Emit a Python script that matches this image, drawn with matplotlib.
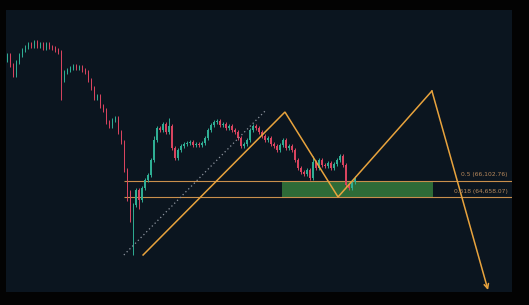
import matplotlib
matplotlib.use("Agg")
import numpy as np
import matplotlib.pyplot as plt
from matplotlib.patches import Rectangle

# candle closes (price units)
closes = [77480, 76580, 75680, 76850, 77480, 77930, 78200, 78470, 78290, 78660,
          78290, 78470, 78110, 78470, 78200, 78110, 77930, 77750, 75220, 75950,
          76130, 76310, 76490, 76310, 76400, 76130, 75950, 75220, 74500, 73600,
          73780, 72880, 72510, 71430, 71070, 71610, 71790, 70530, 69630, 67100,
          65110, 63300, 63940, 65290, 64390, 65470, 66190, 66650, 68000, 69810,
          70890, 70710, 71250, 70530, 71070, 69080, 68180, 68900, 69260, 69440,
          69530, 69630, 69350, 69440, 69350, 69530, 69990, 70710, 71160, 71430,
          71520, 71160, 71250, 70890, 71070, 70710, 70530, 69990, 69260, 69440,
          69810, 70710, 71070, 70890, 70530, 70170, 69810, 69990, 69440, 69260,
          68900, 69350, 69810, 69080, 69260, 68900, 68000, 67280, 66920, 66740,
          67100, 66370, 67820, 67280, 68000, 67550, 67460, 67730, 67280, 67640,
          68000, 68360, 67550, 65740, 65470, 66010, 66370]
first_open = 77000
# long wicks
wick_low = {18: 73420, 40: 64300, 41: 62400, 42: 59420, 44: 63600}
wick_high = {54: 71800, 49: 70200, 102: 68400}

# drawn pattern (candle index, price)
zig_x = [45.2, 92.5, 110.2, 141.5, 160.2]
zig_y = [59420, 72330, 64660, 74230, 56260]
dot_x = [38.8, 86.2]
dot_y = [59420, 72510]
fib_levels = [66102.76, 64658.07]
fib_labels = ["0.5 (66,102.76)", "0.618 (64,658.07)"]
zone_x = [91.5, 141.8]

opens = [first_open] + closes[:-1]
n = len(closes)
idx = np.arange(n)
o = np.array(opens, dtype=float)
c = np.array(closes, dtype=float)
pad = 160
hi = np.maximum(o, c) + pad
lo = np.minimum(o, c) - pad
for k, v in wick_low.items():
    lo[k] = v
for k, v in wick_high.items():
    hi[k] = v

up_col = "#2fae94"
dn_col = "#d9445f"
cols = [up_col if cc >= oo else dn_col for oo, cc in zip(o, c)]

fig = plt.figure(figsize=(5.29, 3.05), dpi=100, facecolor="#030303")
ax = fig.add_axes([6/529, 13/305, 506/529, 282/305])
ax.set_facecolor("#0b151f")

# green zone
ax.add_patch(Rectangle((zone_x[0], fib_levels[1]), zone_x[1]-zone_x[0],
                       fib_levels[0]-fib_levels[1], facecolor="#2e6b37",
                       edgecolor="none", zorder=1))
# fib lines
for lv in fib_levels:
    ax.hlines(lv, 39, 170, color="#c98f4c", lw=0.8, zorder=2)
ax.text(166.8, 66700, fib_labels[0], color="#b98a5c", fontsize=4.3,
        ha="right", va="center", zorder=5)
ax.text(166.8, 65150, fib_labels[1], color="#b98a5c", fontsize=4.3,
        ha="right", va="center", zorder=5)

# candles
ax.vlines(idx, lo, hi, colors=cols, lw=0.7, zorder=3)
body = np.maximum(np.abs(c - o), 60)
ax.bar(idx, body, 0.65, bottom=np.minimum(o, c), color=cols, zorder=3)

# dotted guide
ax.plot(dot_x, dot_y, color="#8f96a0", lw=0.9, dashes=(1, 2.2), zorder=4)

# zigzag projection
ax.plot(zig_x[:-1], zig_y[:-1], color="#e8a33d", lw=1.1, zorder=4,
        solid_joinstyle="miter")
ax.annotate("", xy=(zig_x[-1], zig_y[-1]), xytext=(zig_x[-2], zig_y[-2]),
            arrowprops=dict(arrowstyle="->", color="#e8a33d", lw=1.1,
                            mutation_scale=8, shrinkA=0, shrinkB=0),
            zorder=4)

ax.set_xlim(-0.5, 168.2)
ax.set_ylim(56080, 81540)
ax.set_xticks([])
ax.set_yticks([])
for s in ax.spines.values():
    s.set_visible(False)

fig.savefig("out.png", dpi=100, facecolor=fig.get_facecolor())
